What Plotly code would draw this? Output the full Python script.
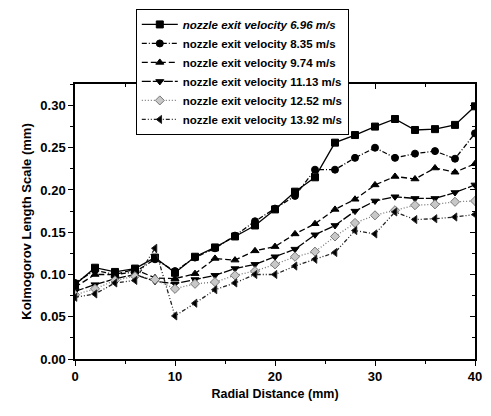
import plotly.graph_objects as go

# Radial positions (mm)
radial_mm = [0, 2, 4, 6, 8, 10, 12, 14, 16, 18, 20, 22, 24, 26, 28, 30, 32, 34, 36, 38, 40]

# Kolmogorov length scale (mm) for each nozzle exit velocity
eta_696 = [0.088, 0.108, 0.103, 0.107, 0.120, 0.102, 0.121, 0.132, 0.145, 0.158, 0.177,
           0.198, 0.215, 0.256, 0.265, 0.275, 0.284, 0.271, 0.272, 0.277, 0.299]
eta_835 = [0.090, 0.105, 0.100, 0.103, 0.118, 0.104, 0.120, 0.131, 0.146, 0.163, 0.178,
           0.193, 0.224, 0.224, 0.238, 0.250, 0.238, 0.243, 0.246, 0.237, 0.267]
eta_974 = [0.085, 0.100, 0.100, 0.106, 0.096, 0.095, 0.101, 0.119, 0.117, 0.128, 0.133,
           0.148, 0.160, 0.177, 0.189, 0.206, 0.216, 0.213, 0.226, 0.221, 0.231]
eta_1113 = [0.080, 0.088, 0.095, 0.100, 0.092, 0.089, 0.094, 0.099, 0.107, 0.112, 0.121,
            0.130, 0.147, 0.158, 0.175, 0.187, 0.192, 0.190, 0.190, 0.197, 0.206]
eta_1252 = [0.076, 0.083, 0.093, 0.098, 0.094, 0.083, 0.089, 0.091, 0.099, 0.104, 0.112,
            0.121, 0.127, 0.145, 0.161, 0.170, 0.176, 0.182, 0.183, 0.186, 0.187]
eta_1392 = [0.073, 0.077, 0.090, 0.093, 0.131, 0.051, 0.066, 0.082, 0.090, 0.100, 0.100,
            0.110, 0.118, 0.126, 0.152, 0.148, 0.174, 0.165, 0.166, 0.168, 0.171]

series_names = [
    "<i>nozzle exit velocity 6.96 m/s</i>",
    "nozzle exit velocity 8.35 m/s",
    "nozzle exit velocity 9.74 m/s",
    "nozzle exit velocity 11.13 m/s",
    "nozzle exit velocity 12.52 m/s",
    "nozzle exit velocity 13.92 m/s",
]
series_values = [eta_696, eta_835, eta_974, eta_1113, eta_1252, eta_1392]

styles = [
    dict(symbol="square", dash="solid", color="#000000", fill="#000000"),
    dict(symbol="circle", dash="5px,2px,1px,2px", color="#000000", fill="#000000"),
    dict(symbol="triangle-up", dash="6px,3px", color="#000000", fill="#000000"),
    dict(symbol="triangle-down", dash="9px,2px", color="#000000", fill="#000000"),
    dict(symbol="diamond", dash="1px,2px", color="#777777", fill="#c8c8c8"),
    dict(symbol="triangle-left", dash="4px,2px,1px,2px,1px,2px", color="#222222", fill="#000000"),
]

fig = go.Figure()
for name, vals, st in zip(series_names, series_values, styles):
    fig.add_trace(go.Scatter(
        x=radial_mm, y=vals, name=name, mode="lines+markers",
        line=dict(color=st["color"], width=1.3, dash=st["dash"]),
        marker=dict(symbol=st["symbol"], size=7, color=st["fill"],
                    line=dict(color=st["color"], width=1)),
    ))

# secondary axes give inward ticks on the top and right frame
fig.add_trace(go.Scatter(x=[None], y=[None], xaxis="x2", yaxis="y2",
                         showlegend=False, hoverinfo="skip"))

font_family = "Liberation Sans, Arial, sans-serif"
axis_common = dict(showgrid=False, zeroline=False, showline=True,
                   linecolor="black", linewidth=1.5)

fig.update_layout(
    width=491, height=416,
    margin=dict(l=75, r=9, t=82, b=57),
    paper_bgcolor="white", plot_bgcolor="white",
    font=dict(family=font_family, color="black"),
    showlegend=True,
    legend=dict(
        x=0.152, y=1.273, xanchor="left", yanchor="top",
        bordercolor="black", borderwidth=1, bgcolor="white",
        font=dict(size=11.5, family=font_family, weight="bold"),
        tracegroupgap=0, itemwidth=36,
    ),
    xaxis=dict(
        range=[0, 40], tickvals=[0, 10, 20, 30, 40], ticks="outside", ticklen=5,
        tickwidth=1, tickcolor="black",
        minor=dict(dtick=5, ticks="outside", ticklen=3, tickcolor="black"),
        tickfont=dict(size=13, weight="bold"),
        title=dict(text="Radial Distance (mm)", font=dict(size=12.5, weight="bold"), standoff=6),
        **axis_common,
    ),
    yaxis=dict(
        range=[0, 0.3254], tickvals=[0, 0.05, 0.10, 0.15, 0.20, 0.25, 0.30],
        tickformat=".2f", ticks="outside", ticklen=5, tickwidth=1, tickcolor="black",
        minor=dict(dtick=0.025, ticks="outside", ticklen=3, tickcolor="black"),
        tickfont=dict(size=13, weight="bold"),
        title=dict(text="Kolmogorov Length Scale (mm)", font=dict(size=13, weight="bold"), standoff=6),
        **axis_common,
    ),
    xaxis2=dict(
        overlaying="x", side="top", matches="x", anchor="y2",
        tickvals=[0, 10, 20, 30, 40], ticks="inside", ticklen=5, tickcolor="black",
        minor=dict(dtick=5, ticks="inside", ticklen=3, tickcolor="black"),
        showticklabels=False, **axis_common,
    ),
    yaxis2=dict(
        overlaying="y", side="right", matches="y", anchor="x2",
        tickvals=[0, 0.05, 0.10, 0.15, 0.20, 0.25, 0.30], ticks="inside", ticklen=5,
        tickcolor="black",
        minor=dict(dtick=0.025, ticks="inside", ticklen=3, tickcolor="black"),
        showticklabels=False, **axis_common,
    ),
)

fig.write_html("out.html")
